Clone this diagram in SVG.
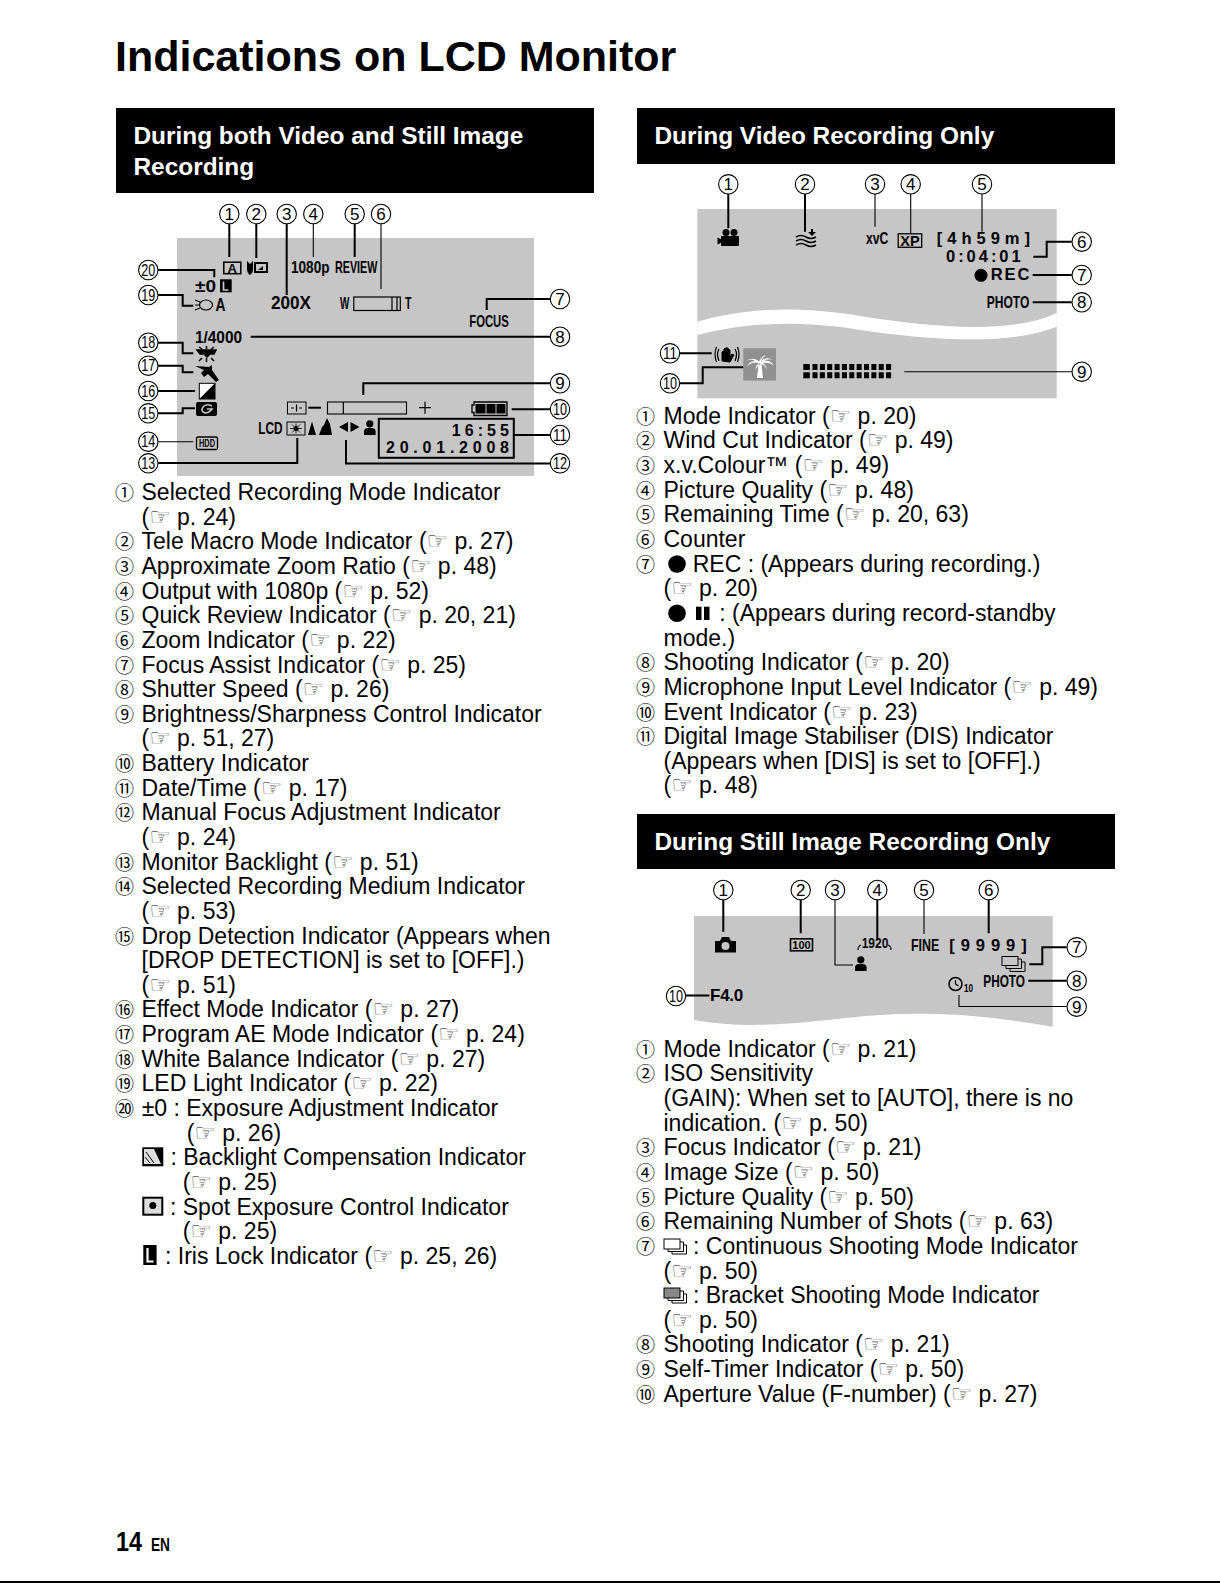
<svg xmlns="http://www.w3.org/2000/svg" width="1220" height="1583" viewBox="0 0 1220 1583">
<style>
text{font-family:"Liberation Sans",Arial,sans-serif;fill:#000}
.t{font-size:23px}
.n{font-size:19px;font-family:"Noto Sans CJK JP","DejaVu Sans",sans-serif;font-weight:400}
.h{font-family:"DejaVu Sans",sans-serif;font-size:24px;fill:#555}
.hd{font-size:24.400px;font-weight:bold;fill:#fff}
.b{font-weight:bold}
.d{font-size:17px;text-anchor:middle;transform:translateY(.6px)}
.p{fill:#c6c6c6}
.c{fill:none;stroke:#000;stroke-width:1.100}
.w{fill:none;stroke:#000;stroke-width:2}
.x{fill:none;stroke:#000;stroke-width:1.200}
.k{fill:#000}
</style>
<defs>
<g id="person"><circle cx="5.800" cy="3.800" r="3.600" class="k"/><path d="M0 15V11.500Q0 8 4 8H7.600Q11.600 8 11.600 11.500V15Z" class="k"/></g>
</defs>
<rect width="1220" height="1583" fill="#fff"/>
<text x="115" y="71" font-size="43" class="b" id="title">Indications on LCD Monitor</text>

<rect x="116" y="108" width="478" height="85" class="k"/>
<text x="133.500" y="143.500" class="hd">During both Video and Still Image</text>
<text x="133.500" y="174.500" class="hd">Recording</text>
<rect x="637" y="108" width="478" height="56" class="k"/>
<text x="654.500" y="143.500" class="hd">During Video Recording Only</text>
<rect x="637" y="814" width="478" height="55" class="k"/>
<text x="654.500" y="850" class="hd">During Still Image Recording Only</text>

<!-- panel 1 -->
<rect x="177" y="238" width="357" height="238" class="p"/>
<g id="panel1-indicators">
<rect x="223.800" y="262.200" width="17" height="11.500" fill="none" stroke="#000" stroke-width="1.500"/>
<text x="232.300" y="272.700" font-size="13" class="b" text-anchor="middle">A</text>
<path d="M247 261l3 3 3-3v8q0 4-3 6-3-2-3-6z" class="k"/>
<rect x="254" y="262" width="14" height="11" class="k"/><rect x="256" y="264" width="10" height="7" fill="#c6c6c6"/>
<path d="M258 270l5-4v4z" class="k"/>
<text x="291" y="273.300" font-size="17" class="b" textLength="38.500" lengthAdjust="spacingAndGlyphs">1080p</text>
<text x="335" y="273.300" font-size="17" class="b" textLength="42.300" lengthAdjust="spacingAndGlyphs">REVIEW</text>
<text x="195" y="291.700" font-size="17" class="b" textLength="21" lengthAdjust="spacingAndGlyphs">±0</text>
<rect x="220" y="279.300" width="11.700" height="13" class="k"/><path d="M223.500 281.500v8.500h5" fill="none" stroke="#c6c6c6" stroke-width="1.700"/>
<ellipse cx="206" cy="305" rx="6.500" ry="5" fill="none" stroke="#000" stroke-width="1.200"/>
<path d="M195 300l5 2M195 305h4M195 310l5-2" class="x"/>
<text x="215.500" y="311" font-size="18" class="b" textLength="10" lengthAdjust="spacingAndGlyphs">A</text>
<text x="271" y="309" font-size="17.500" class="b" textLength="40" lengthAdjust="spacingAndGlyphs">200X</text>
<text x="340" y="309.300" font-size="16" class="b" textLength="9.300" lengthAdjust="spacingAndGlyphs">W</text>
<rect x="353.800" y="297" width="46.500" height="13.500" fill="none" stroke="#000" stroke-width="1.200"/>
<path d="M392 297v13.500M397 297v13.500" class="x"/>
<text x="405" y="309.300" font-size="16" class="b" textLength="6.500" lengthAdjust="spacingAndGlyphs">T</text>
<text x="469.300" y="326.700" font-size="17" class="b" textLength="39.500" lengthAdjust="spacingAndGlyphs">FOCUS</text>
<text x="195" y="343.300" font-size="16.500" class="b" textLength="47" lengthAdjust="spacingAndGlyphs">1/4000</text>
<path d="M197 350h19l-2 4h-4l-3 3-3-3h-4zM199 347l3 2M214 347l-3 2M206.500 346v3M199 361l3-3M214 361l-3-3M206.500 358v4" class="k" stroke="#000" stroke-width="1.500"/>
<path d="M195 366l14 1 3-2 0 5 7 10-3 2-8-8-4 3-3-4 3-3z" class="k"/>
<rect x="199.300" y="383.300" width="15.700" height="15.700" fill="#fff" stroke="#000"/><path d="M199.300 399L215 383.300V399Z" class="k"/>
<rect x="196" y="402" width="21" height="14" rx="2" class="k"/><path d="M212 406q-6-3-9 1t2 6q4 0 7-4h-5" fill="none" stroke="#c6c6c6" stroke-width="1.500"/>
<rect x="196.500" y="437" width="21" height="12.500" rx="1.500" fill="none" stroke="#000" stroke-width="1.300"/>
<text x="207" y="447" font-size="10.500" class="b" text-anchor="middle" textLength="16" lengthAdjust="spacingAndGlyphs">HDD</text>
<text x="258.300" y="434.300" font-size="16.500" class="b" textLength="24.400" lengthAdjust="spacingAndGlyphs">LCD</text>
<rect x="287" y="422" width="18" height="13" fill="none" stroke="#000"/>
<circle cx="296" cy="428.500" r="2.500" class="k"/><path d="M296 423.500v10M290 428.500h12M292 424.500l8 8M300 424.500l-8 8" stroke="#000" stroke-width=".8"/>
<path d="M312 421.500l4 13.500h-8zM327 418l3 6 2 11h-13l3-8 2-2z" class="k"/>
<path d="M339 427l9-5v10zM350.500 422l9 5-9 5z" class="k"/>
<use href="#person" x="364" y="420"/>
<rect x="378.800" y="418.800" width="135" height="39" fill="none" stroke="#000" stroke-width="2"/>
<text x="451.700" y="436" font-size="16" class="b" textLength="57.300">16:55</text>
<text x="386" y="453.300" font-size="16" class="b" textLength="123">20.01.2008</text>
<rect x="287.500" y="402" width="18.500" height="12" fill="none" stroke="#000"/>
<path d="M291 408h3M296.500 404.500v7M299 408h3" class="x"/>
<path d="M308.300 407.700H321" class="w"/>
<rect x="327.500" y="402" width="79" height="12" fill="none" stroke="#000" stroke-width="1.100"/><path d="M343.300 402v12" class="x"/>
<path d="M419 407.700h12M425 401.700v12" class="x"/>
<path d="M472 405h2v-3h33v13.500h-33v-3h-2z" fill="none" stroke="#000" stroke-width="1.300"/>
<rect x="475.500" y="404" width="10" height="9.500" class="k"/><rect x="486.500" y="404" width="9" height="9.500" class="k"/><rect x="496.500" y="404" width="9" height="9.500" class="k"/>
</g>

<!-- panel 2 -->
<rect x="697.300" y="209" width="359.400" height="189.300" class="p"/>
<path d="M697.300 321.700C755 305 810 308 860 316C930 327 1010 335 1056.700 313V326.700C1010 346 930 340 860 330C810 322 755 320 697.300 335Z" fill="#fff"/>
<g id="panel2-indicators">
<circle cx="726" cy="232.500" r="3.500" class="k"/><circle cx="734" cy="232.500" r="3.500" class="k"/>
<rect x="721" y="236" width="18" height="10" rx="1" class="k"/><path d="M717.500 237.500l4 2v3l-4 2z" class="k"/>
<path d="M796 237q5-3 10 0t10 0M796 241q5-3 10 0t10 0M796 245q5-3 10 0t10 0" fill="none" stroke="#000" stroke-width="1.500"/>
<path d="M808 232h3v-3h2v3h3l-4 4z" class="k"/>
<text x="866" y="244.300" font-size="16" class="b" textLength="22.300" lengthAdjust="spacingAndGlyphs">xvC</text>
<rect x="898.200" y="233.800" width="23.500" height="13.500" fill="none" stroke="#000" stroke-width="1.300"/>
<text x="910" y="245.500" font-size="14.500" class="b" text-anchor="middle">XP</text>
<text x="936.700" y="244.300" font-size="16.500" class="b" textLength="93.300">[4h59m]</text>
<text x="946" y="261.700" font-size="16.500" class="b" textLength="74.700">0:04:01</text>
<circle cx="981" cy="275.300" r="6.500" class="k"/>
<text x="990.700" y="280" font-size="16.500" class="b" textLength="38.600">REC</text>
<text x="986.700" y="308.300" font-size="17" class="b" textLength="42.600" lengthAdjust="spacingAndGlyphs">PHOTO</text>
<path d="M722 361v-9l2-1v5 -7l2-1v7 -7l2 0v7 -6l2 1v7l2-3 2 1-4 7z" class="k" stroke="#000"/>
<path d="M719 349q-3 5 0 12M716.500 347q-3 7 0 15M735 349q3 5 0 12M737.500 347q3 7 0 15" class="x"/>
<rect x="743.300" y="348.300" width="32.700" height="32.300" fill="#909090"/>
<path d="M757 378l1.500-14h3l1.500 14z M760 362q-7-6-14-1 5-3 9 0-6 0-8 6 4-6 12-4-3 2-4 7 3-5 6-6 4 1 6 6-1-5-4-7 7-1 11 3-3-6-10-5 4-3 9-1-7-4-12 1 1-3 5-6-5 1-7 7z" fill="#fff"/>
<rect x="803.300" y="364" width="6.500" height="6" class="k"/><rect x="803.300" y="372.300" width="6.500" height="6" class="k"/>
<path d="M812.500 367H893.500M812.500 375.300H893.500" stroke="#000" stroke-width="6" stroke-dasharray="5 2.360" fill="none"/>
</g>

<!-- panel 3 -->
<path d="M694 916H1052.700V1026.700C1000 1018 950 1011 880 1015C820 1019 760 1032 694 1020Z" class="p"/>
<g id="panel3-indicators">
<path d="M715 941h5l2-4h7l2 4h5v11.500h-21z" class="k"/><circle cx="725.500" cy="946" r="4" fill="#c6c6c6"/>
<rect x="790.500" y="938.800" width="22" height="12" fill="none" stroke="#000" stroke-width="1.600"/>
<text x="801.500" y="948.800" font-size="11" class="b" text-anchor="middle">100</text>
<text x="861.700" y="948.300" font-size="15.500" class="b" textLength="26.600" lengthAdjust="spacingAndGlyphs">1920</text>
<path d="M858 950q0-4 3-5M891 950q0-4-3-5" class="x"/>
<use href="#person" x="855" y="956"/>
<text x="911" y="951" font-size="17" class="b" textLength="28.300" lengthAdjust="spacingAndGlyphs">FINE</text>
<text x="949.300" y="951" font-size="16.500" class="b" textLength="77.400">[9999]</text>
<rect x="1002" y="956.500" width="16" height="9" fill="#c6c6c6" stroke="#000"/>
<path d="M1018 959h3.500v9.500H1006v-3M1021.500 962h3.500v9.500H1010v-3" fill="none" stroke="#000"/>
<circle cx="955.500" cy="984" r="6.500" fill="none" stroke="#000" stroke-width="1.500"/><path d="M955.500 980v4l3 2" class="x"/>
<text x="964" y="991.700" font-size="10" class="b" textLength="9" lengthAdjust="spacingAndGlyphs">10</text>
<text x="983.300" y="986.700" font-size="17" class="b" textLength="41.700" lengthAdjust="spacingAndGlyphs">PHOTO</text>
<text x="710" y="1000.700" font-size="17" class="b" textLength="33.300">F4.0</text>
</g>

<!-- connectors -->
<g id="connectors">
<path d="M229.300 224V257M256.300 224V258M286.700 224V295M354.700 224V257M550 336.700H250.700M550 383.300H363.300V395M550 409.300H511.700M550 435H514M550 463.500H346V440M158 463H297.300V438M158 413.300H182.700V408.300H195M158 391H195M158 365.700H182.700V372.300H193.300M158 342.700H182.700V353.300H193.300M158 295H182.700V305.700H193.300M158 270H214.300V277.300M550 299H486.700V310" class="w"/>
<path d="M313.300 224V257M381 224V289M158 441.700H193.300" class="c"/>
<path d="M728.300 194V228.300M805 194V231.700M1071.700 241.700H1046.700V256.700H1033.300M1071.700 275H1032.700M1071.700 302.300H1032.700M680 383.300H702.700V367.300H743.300M680 353.300H711.700" class="w"/>
<path d="M875 194V226.700M910.700 194V233M982 194V231.700M1071.700 371.700H904.300" class="c"/>
<path d="M723.300 900V931.700M800.700 900V933.300M877.300 900V940M988.700 900V933.300M1066.700 947.300H1042.300V964.300H1029.300M1066.700 980.700H1028.300M686 995.500H709.300" class="w"/>
<path d="M835 900V965H853M924 900V934M1066.700 1006.500H959V995" class="c"/>
</g>

<!-- callouts panel 1 -->
<g id="p1-1"><circle cx="229.300" cy="214" r="9.700" class="c"/><text x="229.300" y="219.500" class="d">1</text></g>
<g id="p1-2"><circle cx="256.300" cy="214" r="9.700" class="c"/><text x="256.300" y="219.500" class="d">2</text></g>
<g id="p1-3"><circle cx="286.700" cy="214" r="9.700" class="c"/><text x="286.700" y="219.500" class="d">3</text></g>
<g id="p1-4"><circle cx="313.300" cy="214" r="9.700" class="c"/><text x="313.300" y="219.500" class="d">4</text></g>
<g id="p1-5"><circle cx="354.700" cy="214" r="9.700" class="c"/><text x="354.700" y="219.500" class="d">5</text></g>
<g id="p1-6"><circle cx="381" cy="214" r="9.700" class="c"/><text x="381" y="219.500" class="d">6</text></g>
<g id="p1-7"><circle cx="560" cy="299" r="9.700" class="c"/><text x="560" y="304.500" class="d">7</text></g>
<g id="p1-8"><circle cx="560" cy="336.700" r="9.700" class="c"/><text x="560" y="342.200" class="d">8</text></g>
<g id="p1-9"><circle cx="560" cy="383.300" r="9.700" class="c"/><text x="560" y="388.800" class="d">9</text></g>
<g id="p1-10"><circle cx="560" cy="409.300" r="9.700" class="c"/><text x="560" y="414.500" class="d" textLength="14" lengthAdjust="spacingAndGlyphs">10</text></g>
<g id="p1-11"><circle cx="560" cy="435" r="9.700" class="c"/><text x="560" y="440.200" class="d" textLength="14" lengthAdjust="spacingAndGlyphs">11</text></g>
<g id="p1-12"><circle cx="560" cy="463.300" r="9.700" class="c"/><text x="560" y="468.500" class="d" textLength="14" lengthAdjust="spacingAndGlyphs">12</text></g>
<g id="p1-13"><circle cx="148.300" cy="463.300" r="9.700" class="c"/><text x="148.300" y="468.500" class="d" textLength="14" lengthAdjust="spacingAndGlyphs">13</text></g>
<g id="p1-14"><circle cx="148.300" cy="441.700" r="9.700" class="c"/><text x="148.300" y="446.900" class="d" textLength="14" lengthAdjust="spacingAndGlyphs">14</text></g>
<g id="p1-15"><circle cx="148.300" cy="413.300" r="9.700" class="c"/><text x="148.300" y="418.500" class="d" textLength="14" lengthAdjust="spacingAndGlyphs">15</text></g>
<g id="p1-16"><circle cx="148.300" cy="391" r="9.700" class="c"/><text x="148.300" y="396.200" class="d" textLength="14" lengthAdjust="spacingAndGlyphs">16</text></g>
<g id="p1-17"><circle cx="148.300" cy="365.700" r="9.700" class="c"/><text x="148.300" y="370.900" class="d" textLength="14" lengthAdjust="spacingAndGlyphs">17</text></g>
<g id="p1-18"><circle cx="148.300" cy="342.700" r="9.700" class="c"/><text x="148.300" y="347.900" class="d" textLength="14" lengthAdjust="spacingAndGlyphs">18</text></g>
<g id="p1-19"><circle cx="148.300" cy="295" r="9.700" class="c"/><text x="148.300" y="300.200" class="d" textLength="14" lengthAdjust="spacingAndGlyphs">19</text></g>
<g id="p1-20"><circle cx="148.300" cy="270" r="9.700" class="c"/><text x="148.300" y="275.200" class="d" textLength="14" lengthAdjust="spacingAndGlyphs">20</text></g>

<!-- callouts panel 2 -->
<g id="p2-1"><circle cx="728.300" cy="184.300" r="9.700" class="c"/><text x="728.300" y="189.800" class="d">1</text></g>
<g id="p2-2"><circle cx="805" cy="184.300" r="9.700" class="c"/><text x="805" y="189.800" class="d">2</text></g>
<g id="p2-3"><circle cx="875" cy="184.300" r="9.700" class="c"/><text x="875" y="189.800" class="d">3</text></g>
<g id="p2-4"><circle cx="910.700" cy="184.300" r="9.700" class="c"/><text x="910.700" y="189.800" class="d">4</text></g>
<g id="p2-5"><circle cx="982" cy="184.300" r="9.700" class="c"/><text x="982" y="189.800" class="d">5</text></g>
<g id="p2-6"><circle cx="1081.700" cy="241.700" r="9.700" class="c"/><text x="1081.700" y="247.200" class="d">6</text></g>
<g id="p2-7"><circle cx="1081.700" cy="275" r="9.700" class="c"/><text x="1081.700" y="280.500" class="d">7</text></g>
<g id="p2-8"><circle cx="1081.700" cy="302.300" r="9.700" class="c"/><text x="1081.700" y="307.800" class="d">8</text></g>
<g id="p2-9"><circle cx="1081.700" cy="371.700" r="9.700" class="c"/><text x="1081.700" y="377.200" class="d">9</text></g>
<g id="p2-10"><circle cx="670" cy="383.300" r="9.700" class="c"/><text x="670" y="388.500" class="d" textLength="14" lengthAdjust="spacingAndGlyphs">10</text></g>
<g id="p2-11"><circle cx="670" cy="353.300" r="9.700" class="c"/><text x="670" y="358.500" class="d" textLength="14" lengthAdjust="spacingAndGlyphs">11</text></g>

<!-- callouts panel 3 -->
<g id="p3-1"><circle cx="723.300" cy="890" r="9.700" class="c"/><text x="723.300" y="895.500" class="d">1</text></g>
<g id="p3-2"><circle cx="800.700" cy="890" r="9.700" class="c"/><text x="800.700" y="895.500" class="d">2</text></g>
<g id="p3-3"><circle cx="835" cy="890" r="9.700" class="c"/><text x="835" y="895.500" class="d">3</text></g>
<g id="p3-4"><circle cx="877.300" cy="890" r="9.700" class="c"/><text x="877.300" y="895.500" class="d">4</text></g>
<g id="p3-5"><circle cx="924" cy="890" r="9.700" class="c"/><text x="924" y="895.500" class="d">5</text></g>
<g id="p3-6"><circle cx="988.700" cy="890" r="9.700" class="c"/><text x="988.700" y="895.500" class="d">6</text></g>
<g id="p3-7"><circle cx="1076.700" cy="947.300" r="9.700" class="c"/><text x="1076.700" y="952.800" class="d">7</text></g>
<g id="p3-8"><circle cx="1076.700" cy="980.700" r="9.700" class="c"/><text x="1076.700" y="986.200" class="d">8</text></g>
<g id="p3-9"><circle cx="1076.700" cy="1006.700" r="9.700" class="c"/><text x="1076.700" y="1012.200" class="d">9</text></g>
<g id="p3-10"><circle cx="676" cy="996" r="9.700" class="c"/><text x="676" y="1001.200" class="d" textLength="14" lengthAdjust="spacingAndGlyphs">10</text></g>

<!-- list left -->
<g id="list-left" class="t">
<text x="115" y="500" class="n">①</text><text x="141.500" y="500">Selected Recording Mode Indicator</text>
<text x="141.500" y="524.600">(<tspan class="h">☞</tspan> p. 24)</text>
<text x="115" y="549.300" class="n">②</text><text x="141.500" y="549.300">Tele Macro Mode Indicator (<tspan class="h">☞</tspan> p. 27)</text>
<text x="115" y="573.900" class="n">③</text><text x="141.500" y="573.900">Approximate Zoom Ratio (<tspan class="h">☞</tspan> p. 48)</text>
<text x="115" y="598.600" class="n">④</text><text x="141.500" y="598.600">Output with 1080p (<tspan class="h">☞</tspan> p. 52)</text>
<text x="115" y="623.200" class="n">⑤</text><text x="141.500" y="623.200">Quick Review Indicator (<tspan class="h">☞</tspan> p. 20, 21)</text>
<text x="115" y="647.800" class="n">⑥</text><text x="141.500" y="647.800">Zoom Indicator (<tspan class="h">☞</tspan> p. 22)</text>
<text x="115" y="672.500" class="n">⑦</text><text x="141.500" y="672.500">Focus Assist Indicator (<tspan class="h">☞</tspan> p. 25)</text>
<text x="115" y="697.100" class="n">⑧</text><text x="141.500" y="697.100">Shutter Speed (<tspan class="h">☞</tspan> p. 26)</text>
<text x="115" y="721.800" class="n">⑨</text><text x="141.500" y="721.800">Brightness/Sharpness Control Indicator</text>
<text x="141.500" y="746.400">(<tspan class="h">☞</tspan> p. 51, 27)</text>
<text x="115" y="771" class="n">⑩</text><text x="141.500" y="771">Battery Indicator</text>
<text x="115" y="795.700" class="n">⑪</text><text x="141.500" y="795.700">Date/Time (<tspan class="h">☞</tspan> p. 17)</text>
<text x="115" y="820.300" class="n">⑫</text><text x="141.500" y="820.300">Manual Focus Adjustment Indicator</text>
<text x="141.500" y="845">(<tspan class="h">☞</tspan> p. 24)</text>
<text x="115" y="869.600" class="n">⑬</text><text x="141.500" y="869.600">Monitor Backlight (<tspan class="h">☞</tspan> p. 51)</text>
<text x="115" y="894.200" class="n">⑭</text><text x="141.500" y="894.200">Selected Recording Medium Indicator</text>
<text x="141.500" y="918.900">(<tspan class="h">☞</tspan> p. 53)</text>
<text x="115" y="943.500" class="n">⑮</text><text x="141.500" y="943.500">Drop Detection Indicator (Appears when</text>
<text x="141.500" y="968.200">[DROP DETECTION] is set to [OFF].)</text>
<text x="141.500" y="992.800">(<tspan class="h">☞</tspan> p. 51)</text>
<text x="115" y="1017.400" class="n">⑯</text><text x="141.500" y="1017.400">Effect Mode Indicator (<tspan class="h">☞</tspan> p. 27)</text>
<text x="115" y="1042.100" class="n">⑰</text><text x="141.500" y="1042.100">Program AE Mode Indicator (<tspan class="h">☞</tspan> p. 24)</text>
<text x="115" y="1066.700" class="n">⑱</text><text x="141.500" y="1066.700">White Balance Indicator (<tspan class="h">☞</tspan> p. 27)</text>
<text x="115" y="1091.400" class="n">⑲</text><text x="141.500" y="1091.400">LED Light Indicator (<tspan class="h">☞</tspan> p. 22)</text>
<text x="115" y="1116" class="n">⑳</text><text x="141.700" y="1116">±0 : Exposure Adjustment Indicator</text>
<text x="186.700" y="1140.600">(<tspan class="h">☞</tspan> p. 26)</text>
<rect x="142.300" y="1147.300" width="21" height="19" class="k"/><path d="M144 1149h10l7 15h-17z" fill="#ddd"/><path d="M146 1152l8 11M145 1157l5 6" stroke="#000" fill="none"/>
<text x="170.500" y="1165.300">: Backlight Compensation Indicator</text>
<text x="182.700" y="1189.900">(<tspan class="h">☞</tspan> p. 25)</text>
<rect x="143.300" y="1197.700" width="19" height="17" fill="#ddd" stroke="#000" stroke-width="2"/><circle cx="152.800" cy="1205.500" r="3.500" class="k"/>
<text x="170" y="1214.600">: Spot Exposure Control Indicator</text>
<text x="182.700" y="1239.200">(<tspan class="h">☞</tspan> p. 25)</text>
<rect x="143.300" y="1245" width="13.300" height="20" class="k"/><path d="M147.500 1248v13.500h6" fill="none" stroke="#fff" stroke-width="2.200"/>
<text x="165" y="1263.800">: Iris Lock Indicator (<tspan class="h">☞</tspan> p. 25, 26)</text>
</g>

<!-- list video -->
<g id="list-video" class="t" transform="translate(0,1)">
<text x="636" y="422.800" class="n">①</text><text x="663.500" y="422.800">Mode Indicator (<tspan class="h">☞</tspan> p. 20)</text>
<text x="636" y="447.400" class="n">②</text><text x="663.500" y="447.400">Wind Cut Indicator (<tspan class="h">☞</tspan> p. 49)</text>
<text x="636" y="472.100" class="n">③</text><text x="663.500" y="472.100">x.v.Colour™ (<tspan class="h">☞</tspan> p. 49)</text>
<text x="636" y="496.700" class="n">④</text><text x="663.500" y="496.700">Picture Quality (<tspan class="h">☞</tspan> p. 48)</text>
<text x="636" y="521.400" class="n">⑤</text><text x="663.500" y="521.400">Remaining Time (<tspan class="h">☞</tspan> p. 20, 63)</text>
<text x="636" y="546" class="n">⑥</text><text x="663.500" y="546">Counter</text>
<text x="636" y="570.600" class="n">⑦</text><circle cx="677" cy="563" r="8.800" class="k"/><text x="692.700" y="570.600">REC : (Appears during recording.)</text>
<text x="663.500" y="595.300">(<tspan class="h">☞</tspan> p. 20)</text>
<circle cx="677" cy="612.300" r="8.800" class="k"/><rect x="696" y="605.700" width="5.500" height="13.300" class="k"/><rect x="704" y="605.700" width="5.500" height="13.300" class="k"/>
<text x="719.300" y="619.900">: (Appears during record-standby</text>
<text x="663.500" y="644.600">mode.)</text>
<text x="636" y="669.200" class="n">⑧</text><text x="663.500" y="669.200">Shooting Indicator (<tspan class="h">☞</tspan> p. 20)</text>
<text x="636" y="693.800" class="n">⑨</text><text x="663.500" y="693.800">Microphone Input Level Indicator (<tspan class="h">☞</tspan> p. 49)</text>
<text x="636" y="718.500" class="n">⑩</text><text x="663.500" y="718.500">Event Indicator (<tspan class="h">☞</tspan> p. 23)</text>
<text x="636" y="743.100" class="n">⑪</text><text x="663.500" y="743.100">Digital Image Stabiliser (DIS) Indicator</text>
<text x="663.500" y="767.800">(Appears when [DIS] is set to [OFF].)</text>
<text x="663.500" y="792.400">(<tspan class="h">☞</tspan> p. 48)</text>
</g>

<!-- list still -->
<g id="list-still" class="t" transform="translate(0,-1)">
<text x="636" y="1057.700" class="n">①</text><text x="663.500" y="1057.700">Mode Indicator (<tspan class="h">☞</tspan> p. 21)</text>
<text x="636" y="1082.300" class="n">②</text><text x="663.500" y="1082.300">ISO Sensitivity</text>
<text x="663.500" y="1107">(GAIN): When set to [AUTO], there is no</text>
<text x="663.500" y="1131.600">indication. (<tspan class="h">☞</tspan> p. 50)</text>
<text x="636" y="1156.300" class="n">③</text><text x="663.500" y="1156.300">Focus Indicator (<tspan class="h">☞</tspan> p. 21)</text>
<text x="636" y="1180.900" class="n">④</text><text x="663.500" y="1180.900">Image Size (<tspan class="h">☞</tspan> p. 50)</text>
<text x="636" y="1205.500" class="n">⑤</text><text x="663.500" y="1205.500">Picture Quality (<tspan class="h">☞</tspan> p. 50)</text>
<text x="636" y="1230.200" class="n">⑥</text><text x="663.500" y="1230.200">Remaining Number of Shots (<tspan class="h">☞</tspan> p. 63)</text>
<text x="636" y="1254.800" class="n">⑦</text>
<rect x="664" y="1240" width="16" height="10" fill="none" stroke="#000"/><path d="M680 1243h3.500v9.500H668v-2.500M683.500 1246h3v9H672v-2.500" fill="none" stroke="#000"/>
<text x="693" y="1254.800">: Continuous Shooting Mode Indicator</text>
<text x="663.500" y="1279.500">(<tspan class="h">☞</tspan> p. 50)</text>
<rect x="664" y="1289" width="16" height="10" fill="#888" stroke="#000"/><path d="M680 1292h3.500v9.500H668v-2.500M683.500 1295h3v9H672v-2.500" fill="none" stroke="#000"/>
<text x="693" y="1304.100">: Bracket Shooting Mode Indicator</text>
<text x="663.500" y="1328.700">(<tspan class="h">☞</tspan> p. 50)</text>
<text x="636" y="1353.400" class="n">⑧</text><text x="663.500" y="1353.400">Shooting Indicator (<tspan class="h">☞</tspan> p. 21)</text>
<text x="636" y="1378" class="n">⑨</text><text x="663.500" y="1378">Self-Timer Indicator (<tspan class="h">☞</tspan> p. 50)</text>
<text x="636" y="1402.700" class="n">⑩</text><text x="663.500" y="1402.700">Aperture Value (F-number) (<tspan class="h">☞</tspan> p. 27)</text>
</g>

<text x="116" y="1551" font-size="28" class="b" textLength="26" lengthAdjust="spacingAndGlyphs">14</text>
<text x="151" y="1551" font-size="18" class="b" textLength="19" lengthAdjust="spacingAndGlyphs">EN</text>
<rect x="0" y="1581" width="1220" height="2" class="k"/>
</svg>
